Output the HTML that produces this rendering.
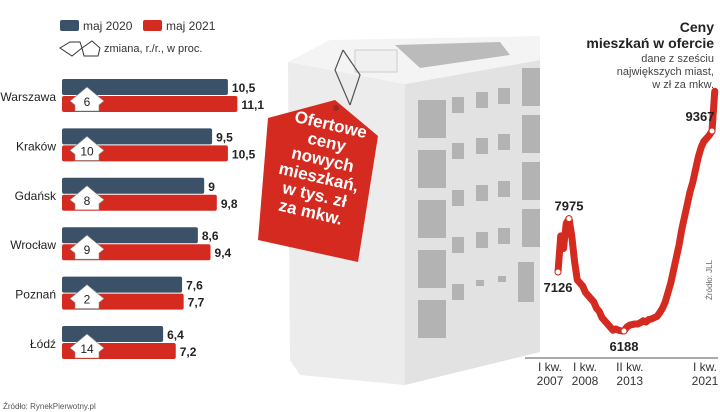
<!DOCTYPE html>
<html><head><meta charset="utf-8"><style>
body{margin:0;width:720px;height:412px;overflow:hidden;background:#fff;font-family:"Liberation Sans",sans-serif;position:relative}
</style></head><body>
<svg width="720" height="412" style="position:absolute;left:0;top:0">
  <g>
    <polygon points="288,62 405,84 405,385 300,375 290,360" fill="#ececec"/>
    <polygon points="405,84 540,60 540,352 405,385" fill="#e2e2e2"/>
    <polygon points="288,62 330,40 540,36 540,60 405,84" fill="#f4f4f4"/>
    <polygon points="395,45 500,42 510,55 420,68" fill="#bbbbbb"/>
    <rect x="355" y="50" width="42" height="22" fill="#f0f0f0" stroke="#ccc"/>
    <g fill="#b3b3b3">
      <rect x="418" y="100" width="28" height="38"/><rect x="418" y="150" width="28" height="38"/>
      <rect x="418" y="200" width="28" height="38"/><rect x="418" y="250" width="28" height="38"/>
      <rect x="418" y="300" width="28" height="38"/>
      <rect x="452" y="97" width="12" height="16"/><rect x="476" y="92" width="12" height="16"/><rect x="498" y="88" width="12" height="16"/>
      <rect x="452" y="143" width="12" height="16"/><rect x="476" y="138" width="12" height="16"/><rect x="498" y="134" width="12" height="16"/>
      <rect x="452" y="190" width="12" height="16"/><rect x="476" y="185" width="12" height="16"/><rect x="498" y="181" width="12" height="16"/>
      <rect x="452" y="237" width="12" height="16"/><rect x="476" y="232" width="12" height="16"/><rect x="498" y="228" width="12" height="16"/>
      <rect x="452" y="284" width="12" height="16"/><rect x="476" y="280" width="8" height="6"/><rect x="498" y="276" width="8" height="6"/>
      <rect x="522" y="68" width="18" height="38"/><rect x="522" y="115" width="18" height="38"/>
      <rect x="522" y="162" width="18" height="38"/><rect x="522" y="209" width="18" height="38"/>
      <rect x="518" y="262" width="16" height="40"/>
    </g>
    <path d="M343,50 L335,70 L350,105 M343,50 L360,75 L350,105" fill="none" stroke="#555" stroke-width="1.2"/>
  </g>
  <g>
    <polygon points="268,118 335,100 378,136 358,262 258,240" fill="#d42a20"/>
    <circle cx="336" cy="108" r="3" fill="#9a2a22"/>
  </g>
  <text font-family="Liberation Sans" font-weight="bold" font-size="17" fill="#fff" text-anchor="middle" transform="rotate(13 315 180)">
    <tspan x="318" y="128">Ofertowe</tspan><tspan x="318" y="146">ceny</tspan><tspan x="318" y="164">nowych</tspan><tspan x="318" y="182">mieszkań,</tspan><tspan x="318" y="200">w tys. zł</tspan><tspan x="318" y="218">za mkw.</tspan>
  </text>
  <g id="bars"></g>
  <g id="line"></g>
  <rect x="60" y="20" width="19" height="11" rx="2" fill="#3b5168"/>
  <text x="83" y="30" font-size="12" fill="#333">maj 2020</text>
  <rect x="143" y="20" width="19" height="11" rx="2" fill="#d42a20"/>
  <text x="166" y="30" font-size="12" fill="#333">maj 2021</text>
  <path d="M60,48 L70,42 L80,42 L82,48 L72,56 Z" fill="#fff" stroke="#333"/>
  <path d="M82,48 L92,41 L100,48 L98,56 L84,56 Z" fill="#fff" stroke="#333"/>
  <text x="104" y="52" font-size="11" fill="#333">zmiana, r./r., w proc.</text>
  <text x="3" y="409" font-size="8" fill="#555">Źródło: RynekPierwotny.pl</text>
  <text text-anchor="end" font-size="14" font-weight="bold" fill="#222"><tspan x="714" y="32">Ceny</tspan><tspan x="714" y="48">mieszkań w ofercie</tspan></text>
  <text text-anchor="end" font-size="11" fill="#444"><tspan x="714" y="62">dane z sześciu</tspan><tspan x="714" y="75">największych miast,</tspan><tspan x="714" y="88">w zł za mkw.</tspan></text>
  <text x="712" y="300" font-size="8" fill="#666" transform="rotate(-90 712 300)">Źródło: JLL</text>
</svg>
<script>
const cities=["Warszawa","Kraków","Gdańsk","Wrocław","Poznań","Łódź"];
const v2020=[10.5,9.5,9,8.6,7.6,6.4];
const v2021=[11.1,10.5,9.8,9.4,7.7,7.2];
const changes=[6,10,8,9,2,14];
const fmt=v=>String(v).replace('.',',');
const NS="http://www.w3.org/2000/svg";
const bx=v=>v*15.8, x0=62;
const bars=document.getElementById('bars');
function mk(tag,attrs,parent){const e=document.createElementNS(NS,tag);for(const k in attrs)e.setAttribute(k,attrs[k]);parent.appendChild(e);return e;}
cities.forEach((c,i)=>{
  const y=79+i*49.4;
  let r=mk('rect',{x:x0,y:y,width:bx(v2020[i]),height:16,rx:2,fill:'#3b5168'},bars);
  
  
  r=mk('rect',{x:x0,y:y+17,width:bx(v2021[i]),height:16,rx:2,fill:'#d42a20'},bars);
  
  
  let t=mk('text',{x:x0+bx(v2020[i])+4,y:y+13,'font-size':12,'font-weight':'bold',fill:'#222'},bars);t.textContent=fmt(v2020[i]);
  
  
  t=mk('text',{x:x0+bx(v2021[i])+4,y:y+30,'font-size':12,'font-weight':'bold',fill:'#222'},bars);t.textContent=fmt(v2021[i]);
  
  
  t=mk('text',{x:56,y:y+22,'font-size':12,fill:'#222','text-anchor':'end'},bars);t.textContent=c;
  
  
  const hx=87,hy=y+8;
  const p=mk('path',{d:`M${hx-12},${hy+10} L${hx},${hy} L${hx+12},${hy+10} L${hx+17},${hy+14} L${hx+12},${hy+18} L${hx+12},${hy+24} L${hx-12},${hy+24} L${hx-12},${hy+18} L${hx-17},${hy+14} Z`,fill:'#fff',stroke:'#888','stroke-width':0.6},bars);
  
  
  t=mk('text',{x:hx,y:hy+19,'font-size':12,fill:'#222','text-anchor':'middle'},bars);t.textContent=changes[i];
  
  
});
const prices=[7126,7700,7500,7900, 7975,7700,7300,7000, 6950,6900,6800,6750, 6700,6650,6550,6500, 6400,6350,6300,6250, 6200,6220,6200,6190, 6188,6250,6280,6290, 6300,6300,6320,6350, 6330,6370,6380,6400, 6420,6480,6550,6650, 6800,6950,7150,7350, 7550,7800,8000,8200, 8400,8550,8750,8950, 9100,9200,9250,9300, 9367,10000];
const tickIdx=[0,4,25,56];
const tickLabels=[["I kw.","2007"],["I kw.","2008"],["II kw.","2013"],["I kw.","2021"]];
const marked=[[0,"7126"],[4,"7975"],[24,"6188"],[56,"9367"]];
const lx=q=>558+q*2.75, ly=v=>272-(v-7126)*0.0629;
const lg=document.getElementById('line');
let d=prices.map((v,i)=>(i?'L':'M')+lx(i)+','+ly(v)).join(' ');
const ax=mk('line',{x1:525,y1:358,x2:718,y2:358,stroke:'#555','stroke-width':1},lg);


const pl=mk('path',{d:d,fill:'none',stroke:'#d42a20','stroke-width':7,'stroke-linejoin':'round','stroke-linecap':'round'},lg);


const lblOff=[[0,20],[0,-8],[0,20],[-12,-10]];
marked.forEach(([i,l],k)=>{
  const c=mk('circle',{cx:lx(i),cy:ly(prices[i]),r:3,fill:'#fff',stroke:'#d42a20','stroke-width':1},lg);
  
  
  const t=mk('text',{x:lx(i)+lblOff[k][0],y:ly(prices[i])+lblOff[k][1],'font-size':13,'font-weight':'bold',fill:'#222','text-anchor':'middle'},lg);t.textContent=l;
  
  
});
const tickOff=[-8,16,3,-7];
tickIdx.forEach((q,k)=>{
  const x=lx(q)+tickOff[k];
  const t=mk('text',{x:x,y:371,'font-size':12,fill:'#333','text-anchor':'middle'},lg);
  
  
  t.innerHTML=`<tspan x="${x}" dy="0">${tickLabels[k][0]}</tspan><tspan x="${x}" dy="14">${tickLabels[k][1]}</tspan>`;
});
</script>
</body></html>
